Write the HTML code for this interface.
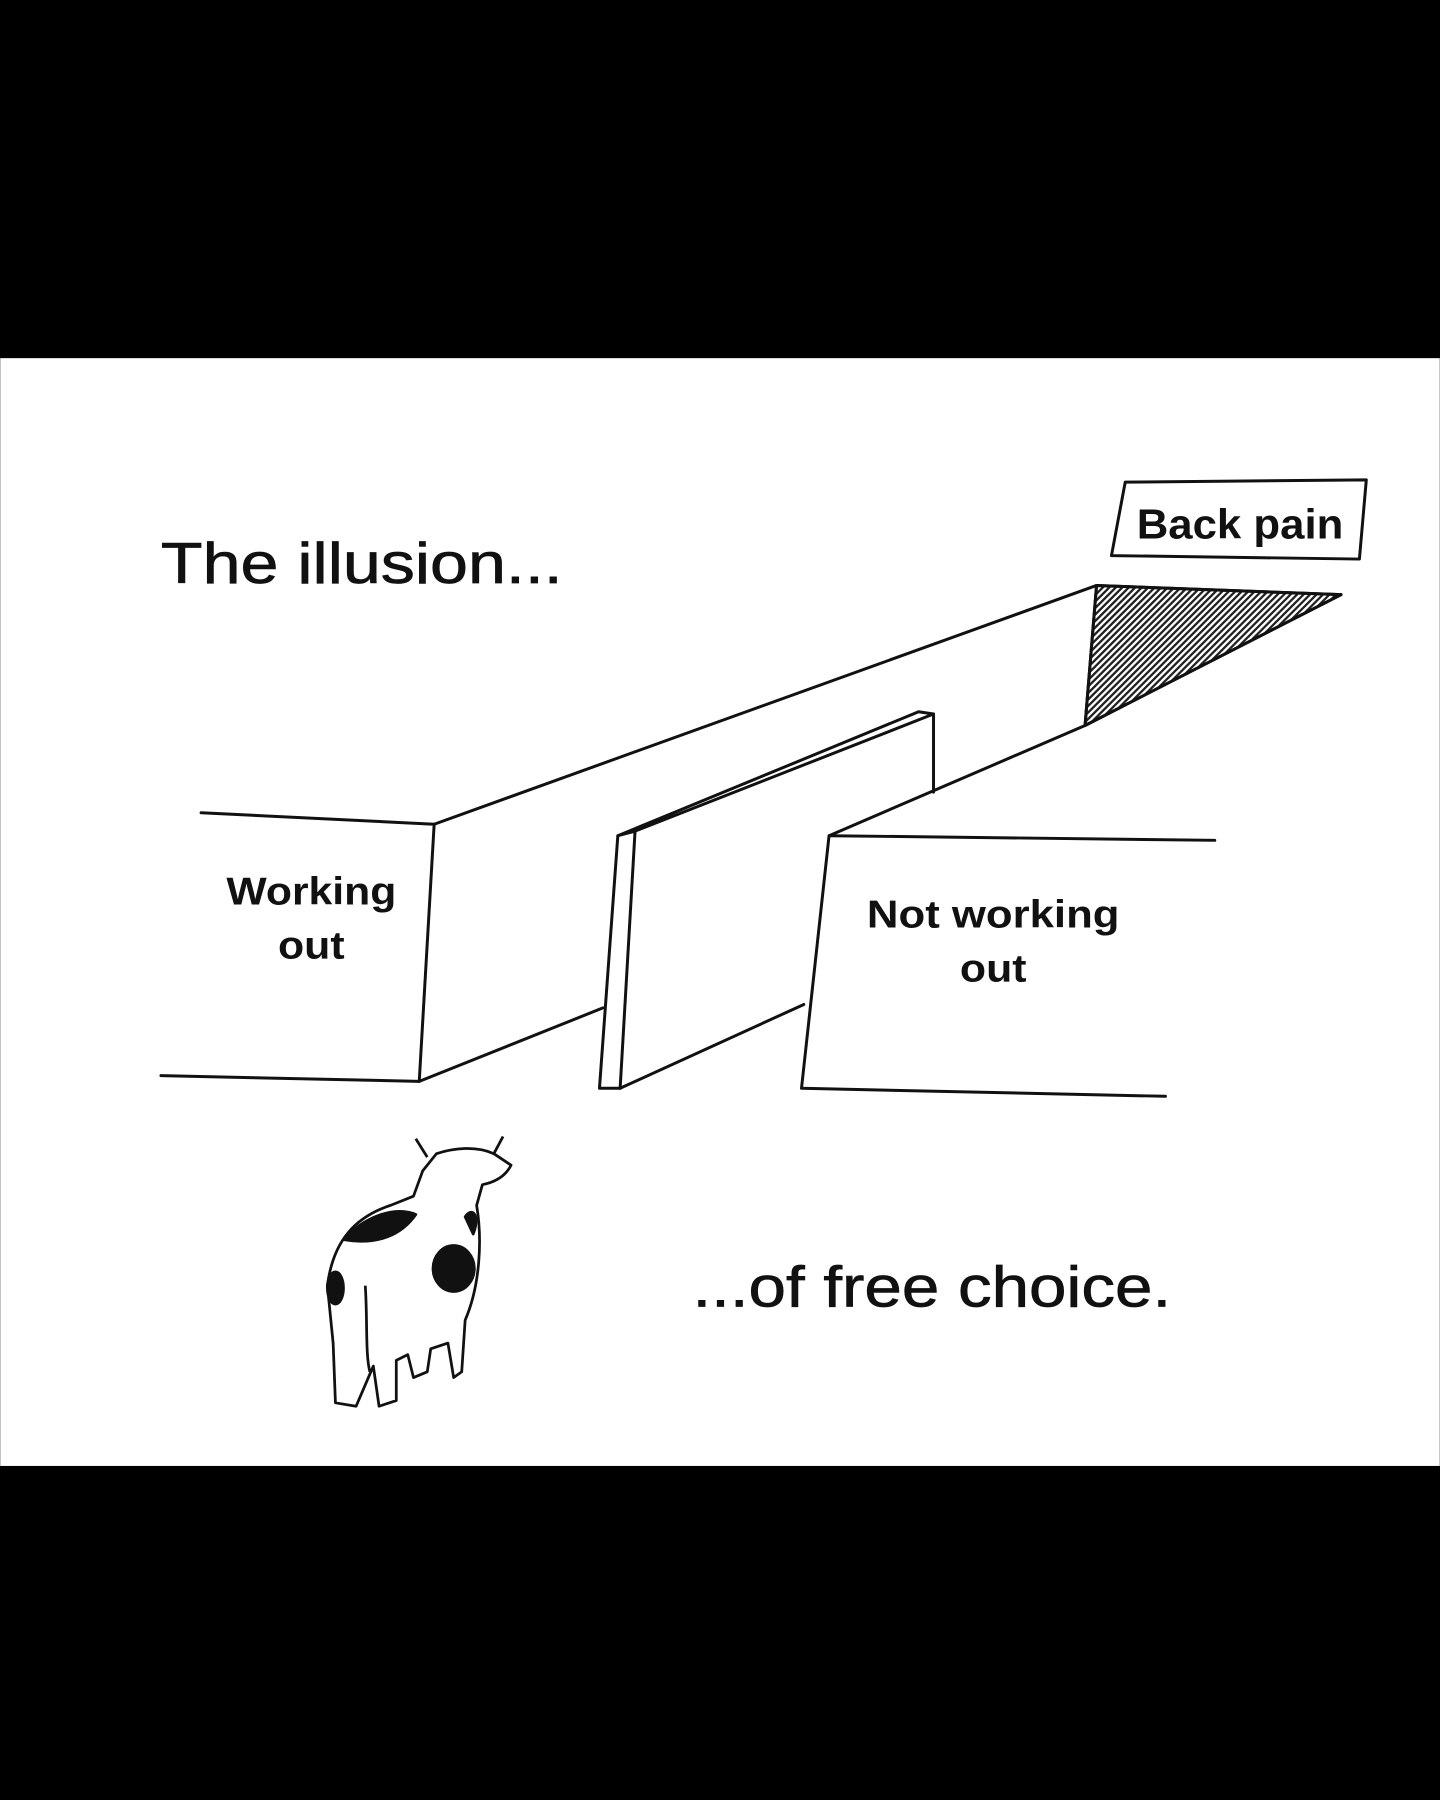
<!DOCTYPE html>
<html><head><style>
html,body{margin:0;padding:0;background:#000;}
svg{display:block;}
text{font-family:"Liberation Sans",sans-serif;fill:#111;}
</style></head><body>
<svg width="1440" height="1800" viewBox="0 0 1254 1568" xmlns="http://www.w3.org/2000/svg">
<defs>
<pattern id="h" width="4" height="4" patternUnits="userSpaceOnUse" patternTransform="rotate(45)">
<rect width="4" height="4" fill="#fff"/><rect width="2" height="4" fill="#222"/>
</pattern>
</defs>
<rect x="0" y="0" width="1254" height="1568" fill="#000"/>
<rect x="0" y="312" width="1254" height="965" fill="#fff"/>
<text x="140" y="508" font-size="50" textLength="350" lengthAdjust="spacingAndGlyphs" stroke="#111" stroke-width="0.6">The illusion...</text>
<g fill="none" stroke="#111" stroke-width="2.6" stroke-linejoin="round" stroke-linecap="round">
<polygon points="980,420 1190,418 1184,487 968,484" fill="#fff"/>
<polygon points="955,510 1168,518 945,632" fill="url(#h)"/>
<polyline points="175,708 378,718 365,942"/>
<polyline points="140,937 365,942 525,878"/>
<polyline points="378,718 955,510 1168,518"/>
<line x1="955" y1="510" x2="945" y2="632"/>
<polyline points="1168,518 945,632 722,728 1058,732"/>
<polyline points="722,728 698,948 1015,955"/>
<polygon points="538,728 553,724 540,948 522,948" fill="#fff"/>
<polyline points="538,728 800,620 813,622 553,724"/>
<line x1="813" y1="622" x2="813" y2="690"/>
<line x1="540" y1="948" x2="700" y2="875"/>
</g>
<text x="990" y="469" font-size="36" font-weight="bold" textLength="180" lengthAdjust="spacingAndGlyphs">Back pain</text>
<g font-size="34" font-weight="bold">
<text x="197" y="788" textLength="148" lengthAdjust="spacingAndGlyphs">Working</text>
<text x="242" y="835" textLength="58" lengthAdjust="spacingAndGlyphs">out</text>
<text x="755" y="808" textLength="220" lengthAdjust="spacingAndGlyphs">Not working</text>
<text x="836" y="855" textLength="58" lengthAdjust="spacingAndGlyphs">out</text>
</g>
<text x="603" y="1138" font-size="50" textLength="417" lengthAdjust="spacingAndGlyphs" stroke="#111" stroke-width="0.6">...of free choice.</text>
<g stroke="#111" stroke-width="2.4" fill="#fff" stroke-linejoin="round">
<path d="M380,1005 C395,1000 415,998 430,1005 L445,1015 C440,1025 430,1030 420,1032 L415,1050 C420,1080 418,1120 405,1150 L402,1195 L395,1200 L390,1170 L375,1175 L372,1195 L360,1200 L355,1180 L345,1185 L345,1220 L330,1225 L325,1190 L310,1225 L292,1222 L290,1170 L285,1120 C290,1080 310,1060 340,1050 L360,1042 L368,1020 Z"/>
<path d="M372,1008 L362,992 M430,1005 L438,990" fill="none"/>
<path d="M300,1080 C315,1060 345,1050 362,1058 C350,1075 330,1085 300,1080 Z" fill="#111"/>
<ellipse cx="395" cy="1105" rx="18" ry="20" fill="#111"/>
<ellipse cx="292" cy="1122" rx="7" ry="14" fill="#111"/>
<path d="M405,1060 C412,1050 418,1060 412,1075 Z" fill="#111"/>
<path d="M318,1120 C320,1150 318,1180 322,1195" fill="none"/>
</g>
</svg>
</body></html>
